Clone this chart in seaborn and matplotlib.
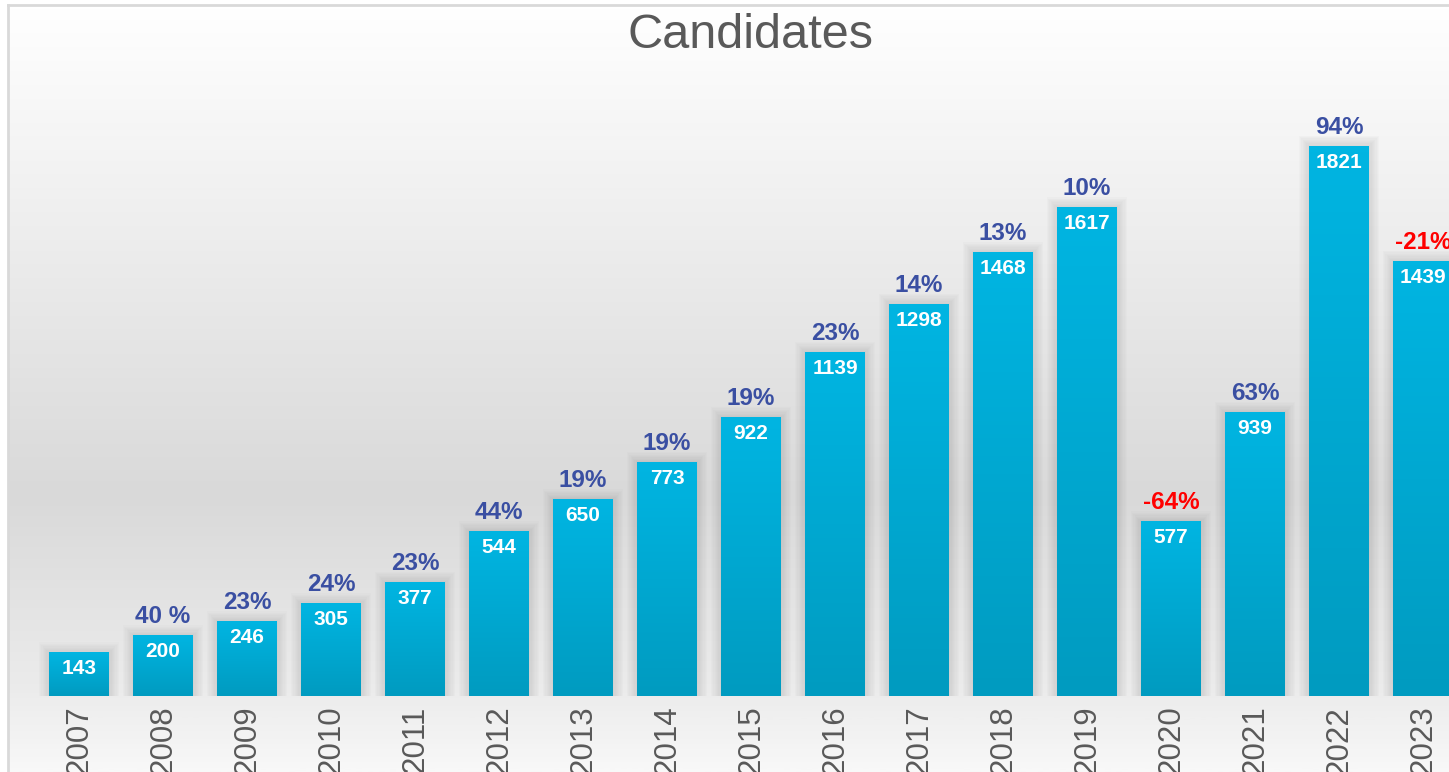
import numpy as np
import pandas as pd
import seaborn as sns
import matplotlib.pyplot as plt
from matplotlib.colors import LinearSegmentedColormap
from matplotlib.patches import Rectangle

# Data
years = [str(y) for y in range(2007, 2024)]
candidates = [143, 200, 246, 305, 377, 544, 650, 773, 922, 1139, 1298, 1468, 1617, 577, 939, 1821, 1439]
growth = ["", "40 %", "23%", "24%", "23%", "44%", "19%", "19%", "19%", "23%",
          "14%", "13%", "10%", "-64%", "63%", "94%", "-21%"]

df = pd.DataFrame({"year": years, "candidates": candidates})

sns.set_theme(style="white")
plt.rcParams["font.family"] = ["Liberation Sans", "DejaVu Sans"]

W, H = 1449, 772
fig = plt.figure(figsize=(W / 100, H / 100), dpi=100)
fig.patch.set_facecolor("white")

# Background panel with vertical grey gradient and thin border (left/top)
bg = fig.add_axes([8 / W, 0, 1 - 8 / W, 1 - 5 / H])
bg_cmap = LinearSegmentedColormap.from_list(
    "bg", [(0.0, "#ffffff"), (0.64, "#d9d9d9"), (0.9, "#ececec"), (1.0, "#f8f8f8")])
bg.imshow(np.linspace(0, 1, 300).reshape(-1, 1), cmap=bg_cmap, aspect="auto",
          extent=[0, 1, 0, 1], origin="upper")
bg.set_xlim(0, 1)
bg.set_ylim(0, 1)
bg.set_xticks([])
bg.set_yticks([])
for side in ["right", "bottom"]:
    bg.spines[side].set_visible(False)
for side in ["left", "top"]:
    bg.spines[side].set_color("#d9d9d9")
    bg.spines[side].set_linewidth(2)

# Main bar axes
px_per_unit = 0.302
ax = fig.add_axes([0, 76 / H, 1, 691 / H])
ax.patch.set_alpha(0)
sns.barplot(data=df, x="year", y="candidates", width=0.714, color="#00aad6",
            saturation=1, ax=ax, zorder=3)

bar_cmap = LinearSegmentedColormap.from_list("bar", ["#009bc0", "#00b5e2"])
for p in ax.patches:
    x0, y0 = p.get_x(), p.get_y()
    w, h = p.get_width(), p.get_height()
    p.set_facecolor("none")
    p.set_edgecolor("none")
    # soft shadow
    for k in range(1, 9):
        dx = k * 1.3 / 84
        dy = k * 1.3 / px_per_unit
        ax.add_patch(Rectangle((x0 - dx, y0), w + 2 * dx, h + dy, facecolor="#7a7a7a",
                               edgecolor="none", alpha=0.028, zorder=2))
    ax.imshow(np.linspace(0, 1, 100).reshape(-1, 1), cmap=bar_cmap, aspect="auto",
              extent=[x0, x0 + w, y0, y0 + h], origin="lower", zorder=3)

ax.set_xlim(-79 / 84, (W - 79) / 84)
ax.set_ylim(0, 691 / px_per_unit)

for i, (v, g) in enumerate(zip(candidates, growth)):
    ax.annotate(str(v), (i, v), xytext=(0, -16), textcoords="offset pixels",
                ha="center", va="center", color="white", fontsize=15,
                fontweight="bold", zorder=5)
    if g:
        col = "#ff0000" if g.startswith("-") else "#3a4fa2"
        ax.annotate(g, (i, v), xytext=(0, 19), textcoords="offset pixels",
                    ha="center", va="center", color=col, fontsize=17.5,
                    fontweight="bold", zorder=5)

ax.set_xlabel("")
ax.set_ylabel("")
ax.set_yticks([])
ax.tick_params(axis="x", length=0, pad=7, labelsize=22.5, labelcolor="#595959",
               labelrotation=90)
for s in ax.spines.values():
    s.set_visible(False)

fig.text(750 / W, 1 - 36 / H, "Candidates", ha="center", va="center",
         fontsize=35, color="#595959")

fig.savefig("out.png", dpi=100)
